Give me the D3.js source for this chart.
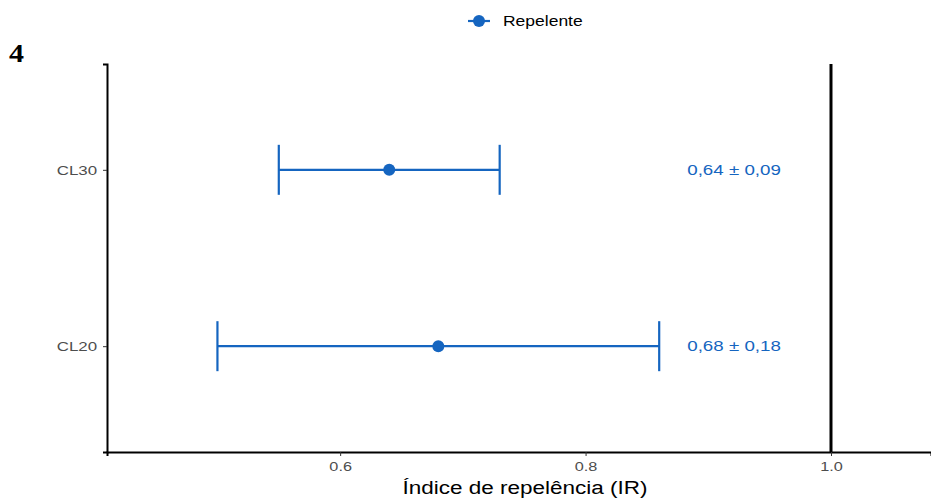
<!DOCTYPE html>
<meta charset="utf-8">
<style>
body { margin: 0; background: #fff; }
</style>
<svg width="931" height="498"></svg>
<script src="https://d3js.org/d3.v7.min.js"></script>
<script>
var groups = ["CL30", "CL20"];
var means = [0.64, 0.68];
var lows = [0.55, 0.50];
var highs = [0.73, 0.86];
var labels = ["0,64 \u00b1 0,09", "0,68 \u00b1 0,18"];
var xTicks = [0.6, 0.8, 1.0];
var color = "#1565c0";
var sans = "Liberation Sans, Arial, sans-serif";
var sx = 1.25; // the picture is stretched sideways

var svg = d3.select("svg"),
    margin = {top: 64, right: 0, bottom: 46, left: 107},
    width = +svg.attr("width") - margin.left - margin.right,
    height = +svg.attr("height") - margin.top - margin.bottom;

var x = d3.scaleLinear().domain([0.41, 1.0815]).range([0, width]);
var y = d3.scalePoint().domain(groups).range([0, height]).padding(0.6);

var g = svg.append("g").attr("transform", "translate(" + margin.left + "," + margin.top + ")");

function stretchedText(parent, px, py, str, size, fill, anchor) {
  return parent.append("g")
    .attr("transform", "translate(" + px + "," + py + ") scale(" + sx + ",1)")
    .append("text")
    .attr("text-anchor", anchor || "start")
    .style("font-family", sans)
    .style("font-size", size + "px")
    .attr("fill", fill)
    .text(str);
}

// reference line at 1
g.append("line")
  .attr("x1", x(1)).attr("x2", x(1))
  .attr("y1", 0).attr("y2", height)
  .attr("stroke", "#000").attr("stroke-width", 3);

var xAxis = g.append("g")
  .attr("transform", "translate(0," + height + ")")
  .call(d3.axisBottom(x).tickValues(xTicks).tickFormat(d3.format(".1f")).tickSize(4).tickPadding(6));
xAxis.select(".domain").attr("stroke", "#000").attr("stroke-width", 2);
xAxis.selectAll(".tick line").attr("stroke", "#333");
xAxis.selectAll(".tick text")
  .attr("fill", "#4d4d4d")
  .style("font-family", sans).style("font-size", "13px")
  .attr("transform", "scale(" + sx + ",1)");

var yAxis = g.append("g")
  .call(d3.axisLeft(y).tickSize(4).tickPadding(6));
yAxis.select(".domain").attr("stroke", "#000").attr("stroke-width", 2);
yAxis.selectAll(".tick line").attr("stroke", "#333");
yAxis.selectAll(".tick text")
  .attr("fill", "#4d4d4d")
  .style("font-family", sans).style("font-size", "13.5px")
  .attr("x", -10 / sx)
  .attr("transform", "scale(" + sx + ",1)");

var rows = g.selectAll(".row").data(groups).enter().append("g")
  .attr("class", "row")
  .attr("transform", function(d) { return "translate(0," + y(d) + ")"; });

rows.append("line")
  .attr("x1", function(d, i) { return x(lows[i]); })
  .attr("x2", function(d, i) { return x(highs[i]); })
  .attr("stroke", color).attr("stroke-width", 2.2);
rows.append("line")
  .attr("x1", function(d, i) { return x(lows[i]); })
  .attr("x2", function(d, i) { return x(lows[i]); })
  .attr("y1", -25).attr("y2", 25)
  .attr("stroke", color).attr("stroke-width", 2.2);
rows.append("line")
  .attr("x1", function(d, i) { return x(highs[i]); })
  .attr("x2", function(d, i) { return x(highs[i]); })
  .attr("y1", -25).attr("y2", 25)
  .attr("stroke", color).attr("stroke-width", 2.2);
rows.append("circle")
  .attr("cx", function(d, i) { return x(means[i]); })
  .attr("r", 6).attr("fill", color);
rows.each(function(d, i) {
  stretchedText(d3.select(this), x(0.921), 0, labels[i], 15, color, "middle").attr("dy", "0.35em");
});

// axis title
stretchedText(svg, 525, 494, "\u00cdndice de repel\u00eancia (IR)", 18, "#000", "middle");

// panel tag
svg.append("g")
  .attr("transform", "translate(9,62) scale(1.2,1)")
  .append("text")
  .style("font-family", "Liberation Serif, Times New Roman, serif")
  .style("font-weight", "bold").style("font-size", "25px")
  .text("4");

// legend
var leg = svg.append("g").attr("transform", "translate(468,21)");
leg.append("line").attr("x1", 0).attr("x2", 22).attr("stroke", color).attr("stroke-width", 2.2);
leg.append("circle").attr("cx", 11).attr("r", 6).attr("fill", color);
stretchedText(leg, 35, 0, "Repelente", 14, "#000", "start").attr("dy", "0.35em");
</script>
